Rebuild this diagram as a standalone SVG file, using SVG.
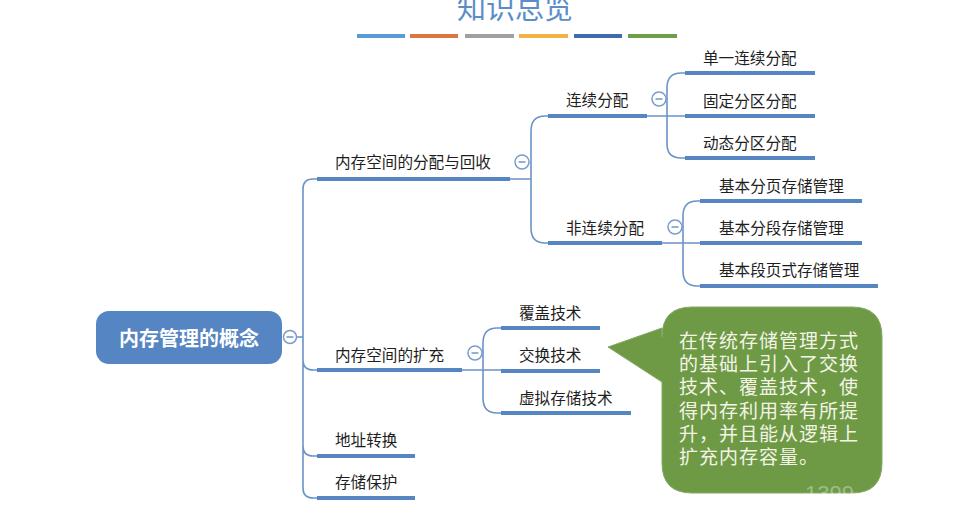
<svg xmlns="http://www.w3.org/2000/svg" width="965" height="522" viewBox="0 0 965 522">
<style>
.lbl{font-family:"Noto Sans CJK SC","Noto Sans",sans-serif;font-size:15.6px;fill:#1e1e1e}
.bar{stroke:#5686c2;stroke-width:4;fill:none}
.con{stroke:#6a93c8;stroke-width:1.6;fill:none}
.tog circle{fill:#fff;stroke:#7b9ccb;stroke-width:1.5}
.tog line{stroke:#7b9ccb;stroke-width:1.6}
</style>
<rect width="965" height="522" fill="#fff"/>
<g id="title">
<text x="515" y="19" text-anchor="middle" font-family="Noto Sans CJK SC,sans-serif" font-size="29" fill="#5b8dc8">知识总览</text>
<rect x="357" y="34" width="48" height="4" fill="#5b9bd5"/>
<rect x="410" y="34" width="48" height="4" fill="#de7440"/>
<rect x="465" y="34" width="49" height="4" fill="#a0a0a0"/>
<rect x="519" y="34" width="49" height="4" fill="#f3b244"/>
<rect x="574" y="34" width="48" height="4" fill="#4169b0"/>
<rect x="628" y="34" width="49" height="4" fill="#6f9e48"/>
</g>
<g id="connectors">
<path class="con" d="M296,337 H303 M317,179 H313 Q303,179 303,189 V488 Q303,498 313,498 H317 M303,360 Q303,370 313,370 H317 M303,446 Q303,456 313,456 H317"/>
<path class="con" d="M510,179 H531 M548,116 H545 Q531,116 531,131 V228 Q531,243 545,243 H548"/>
<path class="con" d="M647,116 H685 M685,73 H681 Q667,73 667,88 V144 Q667,158 681,158 H685"/>
<path class="con" d="M662,243 H700 M700,201 H697 Q683,201 683,216 V271 Q683,286 697,286 H700"/>
<path class="con" d="M462,370 H501 M501,328 H497 Q483,328 483,343 V398 Q483,413 497,413 H501"/>
</g>
<g id="root">
<rect x="96" y="311" width="186" height="53" rx="13" fill="#5585c2"/>
<text x="189" y="346" text-anchor="middle" font-family="Noto Sans CJK SC,sans-serif" font-size="20" font-weight="bold" fill="#fff">内存管理的概念</text>
<g class="tog"><circle cx="290" cy="337" r="6.5"/><line x1="286.5" y1="337" x2="293.5" y2="337"/></g>
</g>
<g id="n-alloc">
<line class="bar" x1="317" y1="179" x2="510" y2="179"/>
<text class="lbl" x="335" y="168">内存空间的分配与回收</text>
<g class="tog"><circle cx="522" cy="162" r="7"/><line x1="518.5" y1="162" x2="525.5" y2="162"/></g>
</g>
<g id="n-contig">
<line class="bar" x1="548" y1="116" x2="647" y2="116"/>
<text class="lbl" x="566" y="106">连续分配</text>
<g class="tog"><circle cx="659" cy="99" r="7"/><line x1="655.5" y1="99" x2="662.5" y2="99"/></g>
</g>
<g id="n-single">
<line class="bar" x1="685" y1="73" x2="815" y2="73"/>
<text class="lbl" x="703" y="64">单一连续分配</text>
</g>
<g id="n-fixed">
<line class="bar" x1="685" y1="116" x2="815" y2="116"/>
<text class="lbl" x="703" y="107">固定分区分配</text>
</g>
<g id="n-dynamic">
<line class="bar" x1="685" y1="158" x2="815" y2="158"/>
<text class="lbl" x="703" y="149">动态分区分配</text>
</g>
<g id="n-noncontig">
<line class="bar" x1="548" y1="243" x2="662" y2="243"/>
<text class="lbl" x="566" y="234">非连续分配</text>
<g class="tog"><circle cx="675" cy="227" r="7"/><line x1="671.5" y1="227" x2="678.5" y2="227"/></g>
</g>
<g id="n-paging">
<line class="bar" x1="700" y1="201" x2="862" y2="201"/>
<text class="lbl" x="719" y="192">基本分页存储管理</text>
</g>
<g id="n-seg">
<line class="bar" x1="700" y1="243" x2="862" y2="243"/>
<text class="lbl" x="719" y="234">基本分段存储管理</text>
</g>
<g id="n-segpage">
<line class="bar" x1="700" y1="286" x2="878" y2="286"/>
<text class="lbl" x="719" y="276">基本段页式存储管理</text>
</g>
<g id="n-expand">
<line class="bar" x1="317" y1="370" x2="462" y2="370"/>
<text class="lbl" x="335" y="361">内存空间的扩充</text>
<g class="tog"><circle cx="475" cy="353" r="7"/><line x1="471.5" y1="353" x2="478.5" y2="353"/></g>
</g>
<g id="n-overlay">
<line class="bar" x1="501" y1="328" x2="600" y2="328"/>
<text class="lbl" x="519" y="319">覆盖技术</text>
</g>
<g id="n-swap">
<line class="bar" x1="501" y1="371" x2="600" y2="371"/>
<text class="lbl" x="519" y="361">交换技术</text>
</g>
<g id="n-virtual">
<line class="bar" x1="501" y1="413" x2="631" y2="413"/>
<text class="lbl" x="519" y="404">虚拟存储技术</text>
</g>
<g id="n-addr">
<line class="bar" x1="317" y1="456" x2="415" y2="456"/>
<text class="lbl" x="335" y="446">地址转换</text>
</g>
<g id="n-protect">
<line class="bar" x1="317" y1="498" x2="415" y2="498"/>
<text class="lbl" x="335" y="488">存储保护</text>
</g>
<g id="callout">
<path d="M692,307 H852 Q882,307 882,337 V463 Q882,493 852,493 H692 Q662,493 662,463 V382 L608,347 L662,328 V337 Q662,307 692,307 Z" fill="#6e9a46" stroke="#86a864" stroke-width="1"/>
<g font-family="Noto Sans CJK SC,sans-serif" font-size="19" letter-spacing="1" fill="#f4f4e6">
<text x="679" y="348">在传统存储管理方式</text>
<text x="679" y="371">的基础上引入了交换</text>
<text x="679" y="394">技术、覆盖技术，使</text>
<text x="679" y="418">得内存利用率有所提</text>
<text x="679" y="441">升，并且能从逻辑上</text>
<text x="679" y="464">扩充内存容量。</text>
</g>
<text x="805" y="501" font-family="Liberation Sans,sans-serif" font-size="22" fill="#ffffff" fill-opacity="0.35">1399</text>
</g>
</svg>
